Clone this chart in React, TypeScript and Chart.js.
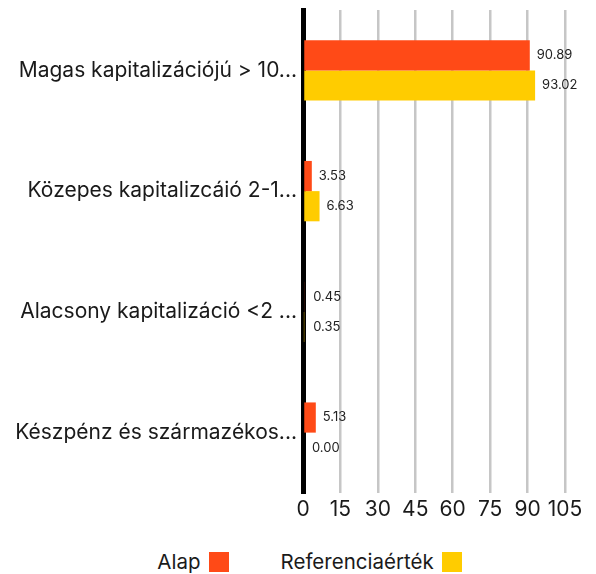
import React, { useEffect, useRef } from "react";
import { Chart, registerables } from "chart.js";

Chart.register(...registerables);

const categories = [
  "Magas kapitalizációjú > 10...",
  "Közepes kapitalizcáió 2-1...",
  "Alacsony kapitalizáció <2 ...",
  "Készpénz és származékos...",
];
const alapValues = [90.89, 3.53, 0.45, 5.13];
const referenciaValues = [93.02, 6.63, 0.35, 0.0];
const xTicks = [0, 15, 30, 45, 60, 75, 90, 105];
const seriesNames = ["Alap", "Referenciaérték"];
const seriesColors = ["#FF4A17", "#FFCC00"];

const FONT = "Inter, 'Noto Sans', sans-serif";

const valueLabels = {
  id: "valueLabels",
  afterDraw(chart: any) {
    const ctx = chart.ctx;
    ctx.save();
    ctx.font = `13px ${FONT}`;
    ctx.fillStyle = "#222";
    ctx.textBaseline = "middle";
    ctx.textAlign = "left";
    chart.data.datasets.forEach((ds: any, i: number) => {
      const meta = chart.getDatasetMeta(i);
      meta.data.forEach((el: any, j: number) => {
        const v = ds.data[j] as number;
        ctx.fillText(v.toFixed(2), Math.max(el.x, el.base + 2) + 7, el.y);
      });
    });
    ctx.restore();
  },
};

export default function App() {
  const ref = useRef<HTMLCanvasElement>(null);
  useEffect(() => {
    document.body.style.margin = "0";
    const chart = new Chart(ref.current!, {
      type: "bar",
      data: {
        labels: categories,
        datasets: [
          {
            label: seriesNames[0],
            data: alapValues,
            backgroundColor: seriesColors[0],
            categoryPercentage: 0.5,
            barPercentage: 1,
          },
          {
            label: seriesNames[1],
            data: referenciaValues,
            backgroundColor: seriesColors[1],
            categoryPercentage: 0.5,
            barPercentage: 1,
          },
        ],
      },
      options: {
        indexAxis: "y",
        animation: false,
        responsive: false,
        layout: { padding: { left: 0, right: 31, top: 10, bottom: 7 } },
        scales: {
          x: {
            min: 0,
            max: 105,
            afterBuildTicks: (axis: any) => {
              axis.ticks = xTicks.map((v) => ({ value: v }));
            },
            afterFit: (axis: any) => {
              axis.height = 30;
              axis.paddingLeft = 0;
              axis.paddingRight = 0;
            },
            grid: {
              color: "#c6c6c6",
              lineWidth: 2.5,
              drawTicks: false,
            },
            border: { display: false },
            ticks: {
              color: "#1a1a1a",
              font: { family: FONT, size: 21 },
              padding: 4,
              maxRotation: 0,
              minRotation: 0,
              autoSkip: false,
            },
          },
          y: {
            z: 1,
            afterFit: (axis: any) => {
              axis.width = 303;
              axis.paddingTop = 0;
              axis.paddingBottom = 0;
            },
            grid: { display: false, drawTicks: false },
            border: { display: true, color: "#000", width: 5 },
            ticks: {
              color: "#1a1a1a",
              font: { family: FONT, size: 21 },
              padding: 6,
            },
          },
        },
        plugins: {
          legend: { display: false },
          tooltip: { enabled: false },
        },
      },
      plugins: [valueLabels],
    } as any);
    return () => chart.destroy();
  }, []);
  return (
    <div style={{ width: 596, height: 574, position: "relative", fontFamily: FONT }}>
      <canvas ref={ref} width={596} height={530} style={{ display: "block" }} />
      <div
        style={{
          position: "absolute",
          top: 549,
          left: 0,
          width: 596,
          display: "flex",
          justifyContent: "center",
          alignItems: "center",
          paddingLeft: 23,
          boxSizing: "border-box",
          fontSize: 20.5,
          color: "#1a1a1a",
          lineHeight: "26px",
        }}
      >
        {seriesNames.map((name, i) => (
          <div
            key={name}
            style={{ display: "flex", alignItems: "center", marginLeft: i === 0 ? 0 : 52 }}
          >
            <span>{name}</span>
            <span
              style={{
                display: "inline-block",
                width: 20,
                height: 20,
                marginLeft: 8,
                background: seriesColors[i],
              }}
            />
          </div>
        ))}
      </div>
    </div>
  );
}
